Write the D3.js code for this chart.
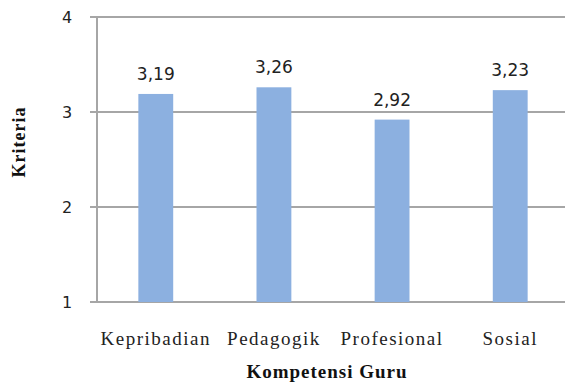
<!DOCTYPE html>
<html>
<head>
<meta charset="utf-8">
<script src="https://cdn.jsdelivr.net/npm/d3@7/dist/d3.min.js"></script>
<style>
  body { margin: 0; background: #fff; }
</style>
</head>
<body>
<script>
var categories = ['Kepribadian', 'Pedagogik', 'Profesional', 'Sosial'];
var values = [3.19, 3.26, 2.92, 3.23];
var yTicks = [1, 2, 3, 4];

var svg = d3.select('body').append('svg')
            .attr('width', 565)
            .attr('height', 383);

var x = d3.scaleBand()
          .domain(categories)
          .range([97, 569])
          .paddingInner(0.705)
          .paddingOuter(0.35);

var y = d3.scaleLinear()
          .domain([1, 4])
          .range([302, 17]);

// gridlines
svg.selectAll('line.grid')
   .data(yTicks)
   .enter()
   .append('line')
   .attr('class', 'grid')
   .attr('x1', 90)
   .attr('x2', 565)
   .attr('y1', function(d) { return y(d); })
   .attr('y2', function(d) { return y(d); })
   .style('stroke', '#a6a6a6')
   .style('stroke-width', '2px');

// y axis line
svg.append('line')
   .attr('x1', 97)
   .attr('x2', 97)
   .attr('y1', y(4))
   .attr('y2', y(1))
   .style('stroke', '#a6a6a6')
   .style('stroke-width', '2px');

svg.selectAll('text.ytick')
   .data(yTicks)
   .enter()
   .append('text')
   .attr('class', 'ytick')
   .attr('x', 67)
   .attr('y', function(d) { return y(d) + 6; })
   .attr('text-anchor', 'middle')
   .style('font-family', 'DejaVu Sans')
   .style('font-size', '16px')
   .style('fill', '#222')
   .text(function(d) { return d; });

svg.selectAll('rect.bar')
   .data(values)
   .enter()
   .append('rect')
   .attr('class', 'bar')
   .attr('x', function(d, i) { return x(categories[i]); })
   .attr('width', x.bandwidth())
   .attr('y', function(d) { return y(d); })
   .attr('height', function(d) { return y(1) - y(d); })
   .style('fill', '#8cb0e0');

svg.selectAll('text.val')
   .data(values)
   .enter()
   .append('text')
   .attr('class', 'val')
   .attr('x', function(d, i) { return x(categories[i]) + x.bandwidth() / 2; })
   .attr('y', function(d) { return y(d) - 14; })
   .attr('text-anchor', 'middle')
   .style('font-family', 'DejaVu Sans')
   .style('font-size', '17px')
   .style('fill', '#222')
   .text(function(d) { return d.toFixed(2).replace('.', ','); });

svg.selectAll('text.cat')
   .data(categories)
   .enter()
   .append('text')
   .attr('class', 'cat')
   .attr('x', function(d) { return x(d) + x.bandwidth() / 2; })
   .attr('y', 345)
   .attr('text-anchor', 'middle')
   .style('font-family', 'Liberation Serif')
   .style('font-size', '19px')
   .style('letter-spacing', '1.5px')
   .style('fill', '#222')
   .text(function(d) { return d; });

svg.append('text')
   .attr('x', 327)
   .attr('y', 378)
   .attr('text-anchor', 'middle')
   .style('font-family', 'Liberation Serif')
   .style('font-weight', 'bold')
   .style('font-size', '19px')
   .style('letter-spacing', '1px')
   .style('fill', '#111')
   .text('Kompetensi Guru');

svg.append('text')
   .attr('transform', 'translate(25,142) rotate(-90)')
   .attr('text-anchor', 'middle')
   .style('font-family', 'Liberation Serif')
   .style('font-weight', 'bold')
   .style('font-size', '18px')
   .style('letter-spacing', '1px')
   .style('fill', '#111')
   .text('Kriteria');
</script>
</body>
</html>
